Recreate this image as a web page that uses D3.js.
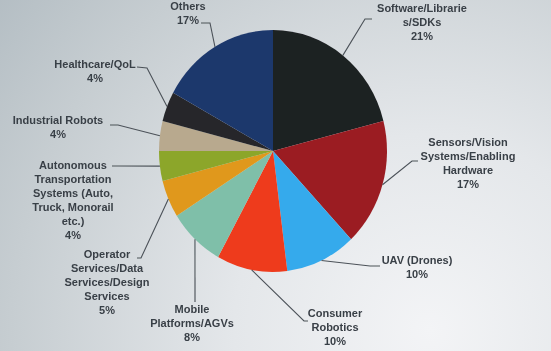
<!DOCTYPE html>
<html>
<head>
<meta charset="utf-8">
<script src="https://cdn.jsdelivr.net/npm/d3@7"></script>
<style>
  html, body { margin: 0; padding: 0; overflow: hidden; }
  svg { display: block; }
</style>
</head>
<body>
<script>
// data
const categories = [
  ["Software/Librarie", "s/SDKs"],
  ["Sensors/Vision", "Systems/Enabling", "Hardware"],
  ["UAV (Drones)"],
  ["Consumer", "Robotics"],
  ["Mobile", "Platforms/AGVs"],
  ["Operator", "Services/Data", "Services/Design", "Services"],
  ["Autonomous", "Transportation", "Systems (Auto,", "Truck, Monorail", "etc.)"],
  ["Industrial Robots"],
  ["Healthcare/QoL"],
  ["Others"]
];
const values = [21, 17, 10, 10, 8, 5, 4, 4, 4, 17];
const colors = ["#1d2023", "#9b1d23", "#36aaec", "#ee3b1d", "#7fbfa9",
                "#e0981b", "#8ca62c", "#b8a98e", "#26282b", "#1f386c"];

// label layout: text centre x, first line y, elbow point, stub end
const labelLayout = [
  { x: 422, y: 8,   elbow: [365, 19],  end: [372, 19] },
  { x: 468, y: 142, elbow: [412, 161], end: [418, 161] },
  { x: 417, y: 260, elbow: [370, 266], end: [380, 266] },
  { x: 335, y: 313, elbow: [304, 321], end: [308, 321] },
  { x: 192, y: 309, elbow: [195, 302], end: [195, 302] },
  { x: 107, y: 254, elbow: [141, 258], end: [137, 258] },
  { x: 73,  y: 165, elbow: [118, 166], end: [112, 166] },
  { x: 58,  y: 120, elbow: [118, 125], end: [110, 125] },
  { x: 95,  y: 64,  elbow: [147, 68],  end: [137, 67] },
  { x: 188, y: 6,   elbow: [210, 23],  end: [201, 23] }
];

const width = 551, height = 351;
const cx = 273, cy = 151, rx = 114, ry = 121;
const lineH = 13.9;

const svg = d3.select("body").append("svg")
  .attr("width", width)
  .attr("height", height);

// projector screen background
const defs = svg.append("defs");
const grad = defs.append("radialGradient")
  .attr("id", "bg")
  .attr("gradientUnits", "userSpaceOnUse")
  .attr("cx", 430).attr("cy", 330).attr("r", 560);
grad.append("stop").attr("offset", "0").attr("stop-color", "#f3f4f6");
grad.append("stop").attr("offset", "0.35").attr("stop-color", "#e4e7ea");
grad.append("stop").attr("offset", "0.75").attr("stop-color", "#c6cdd1");
grad.append("stop").attr("offset", "1").attr("stop-color", "#b2bcc2");

defs.append("filter").attr("id", "soft")
  .append("feGaussianBlur").attr("stdDeviation", 0.35);

svg.append("rect")
  .attr("width", width).attr("height", height)
  .attr("fill", "url(#bg)");

const pie = d3.pie().sort(null).value((d) => d);
const arcs = pie(values);

const arc = d3.arc().innerRadius(0).outerRadius(ry);

// pie, stretched horizontally a touch (photo perspective)
svg.append("g")
  .attr("transform", `translate(${cx},${cy}) scale(${rx / ry},1)`)
  .attr("filter", "url(#soft)")
  .selectAll("path")
  .data(arcs)
  .join("path")
  .attr("d", arc)
  .attr("fill", (d, i) => colors[i]);

// leader lines
const edgePoint = (d) => {
  const a = (d.startAngle + d.endAngle) / 2;
  return [cx + rx * Math.sin(a), cy - ry * Math.cos(a)];
};

svg.append("g")
  .attr("filter", "url(#soft)")
  .selectAll("polyline")
  .data(arcs)
  .join("polyline")
  .attr("points", (d, i) => {
    const p = edgePoint(d);
    const l = labelLayout[i];
    return [p, l.elbow, l.end].map((q) => q.join(",")).join(" ");
  })
  .attr("fill", "none")
  .attr("stroke", "#4c5259")
  .attr("stroke-width", 1.1);

// labels
const labels = svg.append("g")
  .attr("font-family", "'Liberation Sans', Arial, sans-serif")
  .attr("font-weight", "bold")
  .attr("font-size", "11px")
  .attr("fill", "#393f46")
  .attr("text-anchor", "middle")
  .attr("filter", "url(#soft)");

categories.forEach((lines, i) => {
  const l = labelLayout[i];
  const all = lines.concat([values[i] + "%"]);
  const t = labels.append("text")
    .attr("x", l.x)
    .attr("y", l.y)
    .attr("dominant-baseline", "central");
  all.forEach((s, j) => {
    t.append("tspan")
      .attr("x", l.x)
      .attr("y", l.y + j * lineH)
      .text(s);
  });
});
</script>
</body>
</html>
